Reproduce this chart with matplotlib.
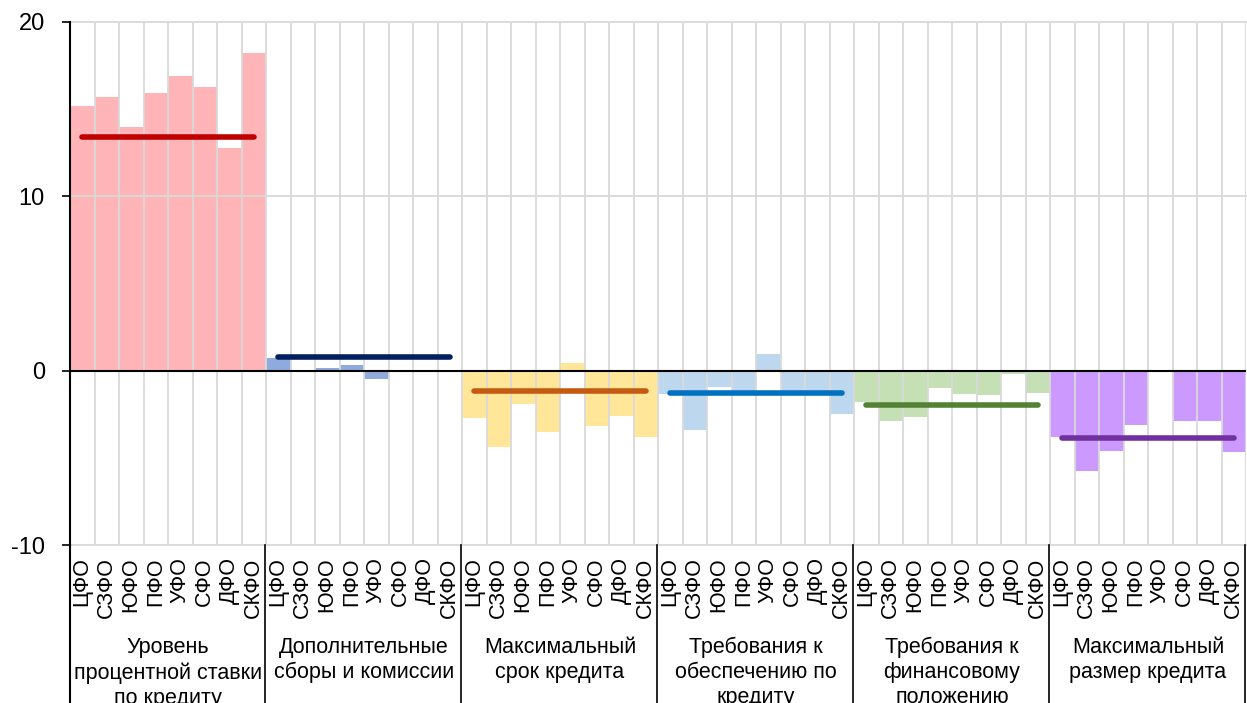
import matplotlib.pyplot as plt
from matplotlib.transforms import blended_transform_factory
from matplotlib.lines import Line2D

plt.rcParams['font.family'] = ['Liberation Sans', 'DejaVu Sans']
plt.rcParams['axes.unicode_minus'] = False

regions = ['ЦФО', 'СЗФО', 'ЮФО', 'ПФО', 'УФО', 'СФО', 'ДФО', 'СКФО']
groups = ['Уровень\nпроцентной ставки\nпо кредиту',
          'Дополнительные\nсборы и комиссии',
          'Максимальный\nсрок кредита',
          'Требования к\nобеспечению по\nкредиту',
          'Требования к\nфинансовому\nположению',
          'Максимальный\nразмер кредита']

rate = [15.2, 15.7, 14.0, 15.9, 16.9, 16.3, 12.8, 18.2]
fees = [0.7, 0.0, 0.17, 0.35, -0.45, 0.0, 0.0, 0.0]
term = [-2.7, -4.4, -1.9, -3.5, 0.46, -3.2, -2.6, -3.8]
collateral = [-1.36, -3.4, -0.92, -1.3, 0.98, -1.3, -1.3, -2.5]
financial = [-1.82, -2.86, -2.64, -1.0, -1.36, -1.42, -0.2, -1.3]
loan_size = [-3.83, -5.73, -4.58, -3.09, 0.0, -2.91, -2.86, -4.64]
series = [rate, fees, term, collateral, financial, loan_size]

totals = [13.4, 0.8, -1.17, -1.3, -1.95, -3.87]

bar_colors = ['#FFB5B8', '#8FAADC', '#FFE699', '#BDD7EE', '#C5E0B4', '#CC99FF']
line_colors = ['#C00000', '#002060', '#C55A11', '#0070C0', '#548235', '#7030A0']

fig = plt.figure(figsize=(12.47, 7.03), dpi=100)
ax = fig.add_axes([70 / 1247, 1 - 545 / 703, 1176 / 1247, 523 / 703])

n = len(regions)
for g, vals in enumerate(series):
    xs = [g * n + i for i in range(n)]
    ax.bar(xs, vals, width=1.0, color=bar_colors[g], zorder=1)
    ax.plot(xs, [totals[g]] * n, color=line_colors[g], lw=4,
            solid_capstyle='round', zorder=4)

total_n = n * len(series)
ax.set_xlim(-0.5, total_n - 0.5)
ax.set_ylim(-10, 20)

# gridlines drawn over the bars
for k in range(total_n + 1):
    ax.axvline(k - 0.5, color='#d9d9d9', lw=1.3, zorder=2)
for yv in [-10, 10, 20]:
    ax.axhline(yv, color='#d9d9d9', lw=1.3, zorder=2, clip_on=False)
ax.axhline(0, color='black', lw=1.5, zorder=3)

ax.set_yticks([-10, 0, 10, 20])
ax.tick_params(axis='y', labelsize=17, length=6, width=1.2, pad=12)
ax.set_xticks(range(total_n))
ax.set_xticklabels(regions * len(series), rotation=90, fontsize=15.5)
ax.tick_params(axis='x', length=0, pad=9)

for s in ['top', 'right', 'bottom']:
    ax.spines[s].set_visible(False)
ax.spines['left'].set_linewidth(1.5)

# left spine continues through label area
ax.add_line(Line2D([0, 0], [0, -0.35], transform=ax.transAxes,
                   color='black', lw=1.5, clip_on=False))

# group separators and group labels
trans = blended_transform_factory(ax.transData, ax.transAxes)
for g in range(1, len(series) + 1):
    ax.add_line(Line2D([g * n - 0.55, g * n - 0.55], [0, -0.35], transform=trans,
                       color='black', lw=1.2, clip_on=False))

ftrans = blended_transform_factory(ax.transData, fig.transFigure)
for g, name in enumerate(groups):
    ax.text(g * n + (n - 1) / 2, 1 - 637 / 703, name, transform=ftrans,
            ha='center', va='top', fontsize=15.5, linespacing=1.25,
            multialignment='center')

fig.savefig('out.png', dpi=100)
